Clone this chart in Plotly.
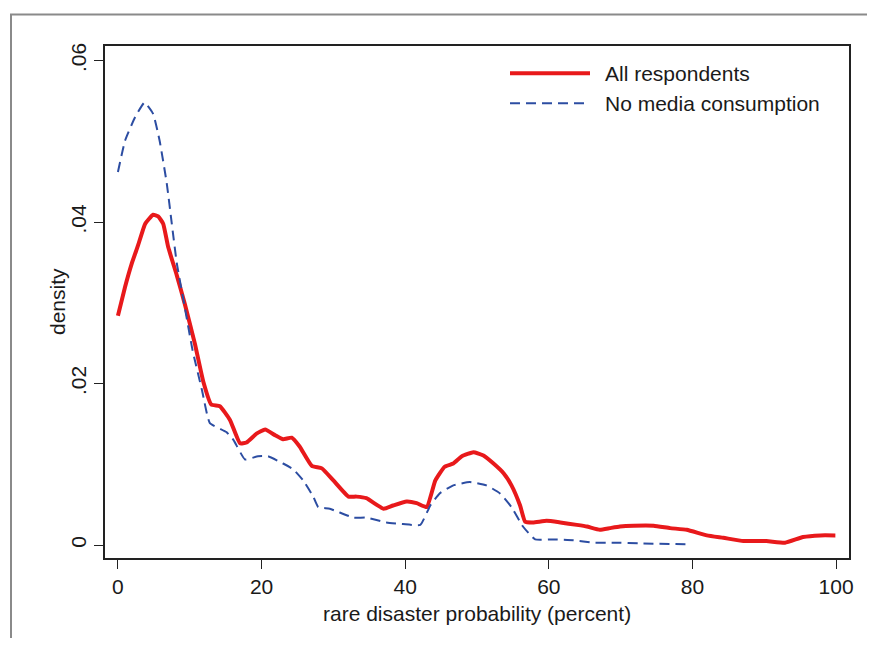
import plotly.graph_objects as go

# ---- data ----
all_x = [0, 1.0, 1.9, 2.8, 3.8, 4.9, 5.6, 6.3, 7.0, 8.2, 9.3, 10.7, 11.9, 13.0, 14.2,
         15.6, 17.0, 17.9, 19.3, 20.5, 21.9, 23.0, 24.2, 25.3, 27.0, 28.4, 30.0, 32.1,
         33.2, 34.6, 37.0, 38.3, 40.2, 41.6, 43.0, 44.2, 45.5, 46.7, 47.9, 49.5, 50.9,
         52.3, 53.7, 54.8, 56.0, 56.7, 57.8, 59.7, 61.6, 63.9, 65.3, 67.1, 68.5, 69.9,
         71.8, 74.6, 76.9, 79.2, 82.0, 84.3, 87.1, 90.3, 92.9, 95.4, 97.8, 99.9]
all_y = [0.0284, 0.0320, 0.0348, 0.0371, 0.0398, 0.0409, 0.0407, 0.0398, 0.0369, 0.0334,
         0.0299, 0.0250, 0.0202, 0.0174, 0.0172, 0.0155, 0.0126, 0.0127, 0.0138, 0.0143,
         0.0136, 0.0131, 0.0133, 0.0122, 0.0098, 0.0095, 0.0080, 0.0060, 0.0060, 0.0058,
         0.0045, 0.0049, 0.0054, 0.0052, 0.0047, 0.0080, 0.0097, 0.0101, 0.0110, 0.0115,
         0.0111, 0.0101, 0.0089, 0.0074, 0.0049, 0.0029, 0.0028, 0.0030, 0.0028, 0.0025,
         0.0023, 0.0019, 0.0021, 0.0023, 0.0024, 0.0024, 0.0021, 0.0019, 0.0012, 0.0009,
         0.0005, 0.0005, 0.0003, 0.0010, 0.0012, 0.0012]

nomedia_x = [0, 1.0, 2.4, 3.7, 4.9, 5.8, 6.8, 7.5, 8.2, 9.3, 10.4, 11.7, 12.8, 15.1,
             16.1, 17.7, 19.5, 20.9, 23.0, 24.4, 25.8, 27.2, 27.9, 29.5, 32.8, 34.6,
             37.4, 39.7, 42.1, 43.5, 44.8, 46.7, 49.0, 51.3, 53.2, 54.8, 56.4, 58.1,
             60.6, 63.4, 66.2, 69.0, 73.0, 79.7]
nomedia_y = [0.0462, 0.0501, 0.0530, 0.0548, 0.0534, 0.0501, 0.0448, 0.0398, 0.0349,
             0.0295, 0.0241, 0.0192, 0.0151, 0.0140, 0.0130, 0.0106, 0.0110, 0.0110,
             0.0101, 0.0094, 0.0080, 0.0060, 0.0047, 0.0045, 0.0034, 0.0034, 0.0028,
             0.0026, 0.0025, 0.0049, 0.0064, 0.0074, 0.0078, 0.0074, 0.0064, 0.0047,
             0.0023, 0.0007, 0.0007, 0.0006, 0.0003, 0.0003, 0.0002, 0.0001]

x_ticks = [0, 20, 40, 60, 80, 100]
y_ticks = [0, 0.02, 0.04, 0.06]
y_ticklabels = ["0", ".02", ".04", ".06"]
series_names = ["All respondents", "No media consumption"]
x_title = "rare disaster probability (percent)"
y_title = "density"

RED = "#e8191b"
BLUE = "#2c4da2"
TXT = "#1a1a1a"
FONT = "Liberation Sans, Arial, sans-serif"

fig = go.Figure()
fig.add_trace(go.Scatter(x=all_x, y=all_y, mode="lines", name=series_names[0],
                         line=dict(color=RED, width=4, shape="spline", smoothing=0.4),
                         showlegend=False))
fig.add_trace(go.Scatter(x=nomedia_x, y=nomedia_y, mode="lines", name=series_names[1],
                         line=dict(color=BLUE, width=2, dash="10px,6px", shape="spline", smoothing=0.4),
                         showlegend=False))

# page body has an 8px margin; lay out in window pixels and compensate
OFF = 8
W, H = 875 - 2 * OFF, 646 - 2 * OFF
L = 105 - OFF
T = 45.5 - OFF
R = W - (849 - OFF)
B = H - (558 - OFF)
pw, ph = W - L - R, H - T - B

def px_x(p):          # p in window pixels
    return (p - OFF - L) / pw

def px_y(p):
    return (H - B - (p - OFF)) / ph

shapes = [
    # outer gray frame (extends past right/bottom edges)
    dict(type="rect", xref="paper", yref="paper",
         x0=px_x(11), x1=px_x(940), y0=px_y(700), y1=px_y(14),
         line=dict(color="#8a8a8a", width=2), layer="below"),
    # legend keys
    dict(type="line", xref="paper", yref="paper",
         x0=px_x(510), x1=px_x(590), y0=px_y(72.7), y1=px_y(72.7),
         line=dict(color=RED, width=4)),
    dict(type="line", xref="paper", yref="paper",
         x0=px_x(510), x1=px_x(590), y0=px_y(102.7), y1=px_y(102.7),
         line=dict(color=BLUE, width=2, dash="10px,6px")),
]
annotations = [
    dict(xref="paper", yref="paper", x=px_x(603), y=px_y(72.7), text=series_names[0],
         showarrow=False, xanchor="left", yanchor="middle",
         font=dict(family=FONT, size=21, color=TXT)),
    dict(xref="paper", yref="paper", x=px_x(603), y=px_y(102.7), text=series_names[1],
         showarrow=False, xanchor="left", yanchor="middle",
         font=dict(family=FONT, size=21, color=TXT)),
    dict(xref="paper", yref="paper", x=0.5, y=px_y(600), text=x_title,
         showarrow=False, xanchor="center", yanchor="top",
         font=dict(family=FONT, size=21, color=TXT)),
    dict(xref="paper", yref="paper", x=px_x(57), y=0.5, text=y_title, textangle=-90,
         showarrow=False, xanchor="center", yanchor="middle",
         font=dict(family=FONT, size=21, color=TXT)),
]

axis_common = dict(showline=True, linecolor="#222222", linewidth=1.6, mirror=True,
                   ticks="outside", ticklen=9, tickwidth=1.4, tickcolor="#222222",
                   showgrid=False, zeroline=False,
                   tickfont=dict(family=FONT, size=21, color=TXT))

fig.update_layout(
    width=W, height=H,
    margin=dict(l=L, r=R, t=T, b=B, autoexpand=False),
    paper_bgcolor="white", plot_bgcolor="white",
    font=dict(family=FONT, size=21, color=TXT),
    shapes=shapes, annotations=annotations,
    xaxis=dict(range=[-1.8, 101.8], tickvals=x_ticks, **axis_common),
    yaxis=dict(range=[-0.0016, 0.0618], tickvals=y_ticks, ticktext=y_ticklabels,
               tickangle=-90, **axis_common),
)

fig.write_html("out.html")
